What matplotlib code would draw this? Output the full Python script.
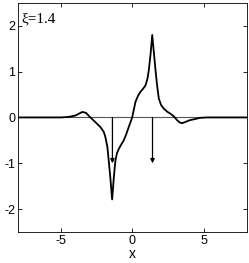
import numpy as np
import matplotlib.pyplot as plt

# curve
x_vals = [-8.0, -5.0, -4.5, -4.0, -3.75, -3.5, -3.25, -2.94, -2.6, -2.24, -2.0, -1.89,
          -1.75, -1.66, -1.55, -1.42, -1.3, -1.19, -1.08, -0.96, -0.8, -0.61, -0.45,
          -0.26, -0.02, 0.21, 0.4, 0.56, 0.75, 0.91, 1.05, 1.14, 1.27, 1.38, 1.5,
          1.61, 1.72, 1.84, 2.0, 2.19, 2.45, 2.66, 2.9, 3.12, 3.3, 3.47, 3.7, 4.0,
          4.3, 4.7, 5.2, 8.0]
y_vals = [0.0, 0.0, 0.01, 0.04, 0.08, 0.12, 0.1, 0.0, -0.1, -0.21, -0.32, -0.43,
          -0.65, -0.94, -1.3, -1.79, -1.3, -0.94, -0.78, -0.69, -0.6, -0.5, -0.38,
          -0.21, 0.0, 0.34, 0.48, 0.56, 0.63, 0.7, 0.85, 1.03, 1.4, 1.8, 1.4,
          1.03, 0.7, 0.41, 0.27, 0.19, 0.12, 0.08, 0.02, -0.06, -0.11, -0.125, -0.1,
          -0.06, -0.04, -0.01, 0.0, 0.0]

# arrows (position, length)
arrow_x = [-1.4, 1.4]
arrow_len = [-1.0, -1.0]

plt.rcParams['font.family'] = ['Liberation Sans', 'DejaVu Sans']
plt.rcParams['axes.unicode_minus'] = False

fig = plt.figure(figsize=(2.49, 2.63), dpi=100)
ax = fig.add_axes([0.072, 0.118, 0.92, 0.871])

ax.axhline(0, color='#555555', lw=0.8, zorder=1)
ax.plot(x_vals, y_vals, color='black', lw=1.3, zorder=3)
for xa, la in zip(arrow_x, arrow_len):
    ax.annotate('', xy=(xa, la), xytext=(xa, 0),
                arrowprops=dict(arrowstyle='-|>', color='black', lw=0.9,
                                mutation_scale=6, shrinkA=0, shrinkB=0))

ax.text(-7.75, 2.08, 'ξ=1.4', family='Liberation Serif', fontsize=11)

ax.set_xlim(-8, 8)
ax.set_ylim(-2.5, 2.5)
ax.set_xticks([-5, 0, 5])
ax.set_yticks([-2, -1, 0, 1, 2])
ax.tick_params(direction='in', top=True, right=True, labelsize=9, length=3, width=0.6, pad=2)
for s in ax.spines.values():
    s.set_linewidth(0.6)
ax.set_xlabel('x', fontsize=10, labelpad=0)

fig.savefig('out.png', dpi=100)
